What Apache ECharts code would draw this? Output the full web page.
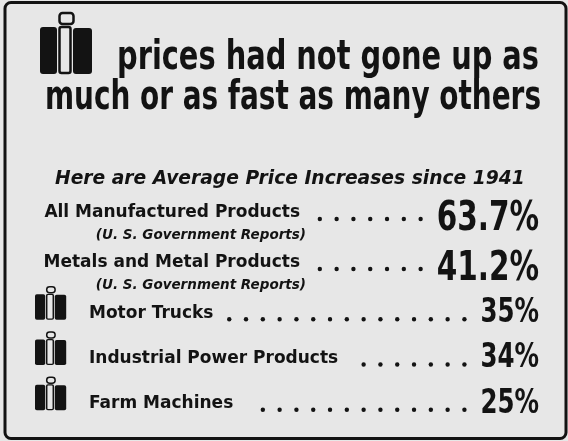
<!DOCTYPE html>
<html>
<head>
<meta charset="utf-8">
<style>
  html, body { margin: 0; padding: 0; background: #e7e7e7; }
  #main { width: 568px; height: 441px; }
</style>
<script src="https://cdn.jsdelivr.net/npm/echarts@6.0.0/dist/echarts.min.js"></script>
</head>
<body>
<div id="main"></div>
<script>
const headline = ['prices had not gone up as', 'much or as fast as many others'];
const subhead = 'Here are Average Price Increases since 1941';

// other industries (government figures)
const industries = ['All Manufactured Products', 'Metals and Metal Products'];
const industryNotes = ['(U. S. Government Reports)', '(U. S. Government Reports)'];
const industryIncrease = [63.7, 41.2];

// IH products
const ihProducts = ['Motor Trucks', 'Industrial Power Products', 'Farm Machines'];
const ihIncrease = [35, 34, 25];

const ink = '#131313';
const paper = '#e7e7e7';
const narrow = "'DejaVu Sans Condensed', 'DejaVu Sans', sans-serif";
const geo = "'DejaVu Sans', sans-serif";
const squeeze = 0.8; // horizontal squeeze for the condensed type

const chartDom = document.getElementById('main');
const myChart = echarts.init(chartDom);

const measureCtx = document.createElement('canvas').getContext('2d');
function textWidth(text, font) {
    measureCtx.font = font;
    return measureCtx.measureText(text).width;
}

// IH emblem, drawn in a 52 x 62 box
function ihLogo(x, y, sx, sy, headR) {
    return {
        type: 'group',
        x: x,
        y: y,
        scaleX: sx,
        scaleY: sy,
        children: [
            { type: 'rect', shape: { x: 0, y: 15, width: 17, height: 47, r: 3 }, style: { fill: ink } },
            { type: 'rect', shape: { x: 33, y: 16, width: 19, height: 46, r: 3 }, style: { fill: ink } },
            { type: 'rect', shape: { x: 19.5, y: 15, width: 11, height: 46, r: 2 }, style: { fill: paper, stroke: ink, lineWidth: 2.5 } },
            { type: 'rect', shape: { x: 19.5, y: 1, width: 14, height: 11, r: headR }, style: { fill: paper, stroke: ink, lineWidth: 2.5 } }
        ]
    };
}

// headline line stretched between two x positions
function headlineText(text, left, right, cy) {
    const font = 'bold 41px ' + narrow;
    return {
        type: 'text', silent: true,
        x: left, y: cy,
        scaleX: (right - left) / textWidth(text, font),
        style: { text: text, x: 0, y: 0, font: font, fill: ink, align: 'left', verticalAlign: 'middle' }
    };
}

function rowRenderer(names, notes, isIH) {
    const nameFont = 'bold 17px ' + geo;
    const noteFont = 'italic bold 13.5px ' + geo;
    const valueFont = 'bold ' + (isIH ? 34 : 41) + 'px ' + narrow;
    return function (params, api) {
        const i = api.value(1);
        const val = api.value(0);
        const cy = api.coord([0, i])[1];
        const area = params.coordSys;
        const right = area.x + area.width;
        const label = val + '%';
        const children = [];

        const nameY = isIH ? cy : cy - 3;
        let nameRight;
        if (isIH) {
            children.push(ihLogo(35, cy - 27, 0.6, 0.54, 5));
            children.push({ type: 'text', style: { text: names[i], x: 89, y: nameY, font: nameFont, fill: ink, align: 'left', verticalAlign: 'middle' } });
            nameRight = 89 + textWidth(names[i], nameFont);
        } else {
            children.push({ type: 'text', style: { text: names[i], x: 300, y: nameY, font: nameFont, fill: ink, align: 'right', verticalAlign: 'middle' } });
            children.push({ type: 'text', style: { text: notes[i], x: 306, y: cy + 19, font: noteFont, fill: ink, align: 'right', verticalAlign: 'middle' } });
            nameRight = 300;
        }

        const valueY = isIH ? cy : cy + 3;
        children.push({
            type: 'text', x: right, y: valueY, scaleX: squeeze,
            style: { text: label, x: 0, y: 0, font: valueFont, fill: ink, align: 'right', verticalAlign: 'middle' }
        });

        // dot leaders, anchored on the value side
        const valueLeft = right - squeeze * textWidth(label, valueFont);
        for (let dx = valueLeft - 16; dx >= nameRight + 14; dx -= 16.8) {
            children.push({ type: 'circle', shape: { cx: dx, cy: nameY + 6, r: 2.2 }, style: { fill: ink } });
        }
        return { type: 'group', children: children };
    };
}

const option = {
    backgroundColor: paper,
    animation: false,
    title: {
        text: subhead, left: 55, top: 170, padding: 0,
        textStyle: { fontFamily: geo, fontStyle: 'italic', fontWeight: 'bold', fontSize: 18.7, lineHeight: 18, color: ink }
    },
    graphic: [
        {
            type: 'rect', silent: true,
            shape: { x: 5, y: 2.5, width: 561, height: 436, r: 6 },
            style: { fill: 'none', stroke: ink, lineWidth: 3 }
        },
        ihLogo(40, 12, 1, 1, 3),
        headlineText(headline[0], 117, 539, 58.5),
        headlineText(headline[1], 45, 541, 98.5)
    ],
    grid: [
        { left: 40, width: 499, top: 191, height: 100 },
        { left: 40, width: 499, top: 290.6, height: 135.75 }
    ],
    xAxis: [
        { gridIndex: 0, type: 'value', min: 0, max: 100, show: false },
        { gridIndex: 1, type: 'value', min: 0, max: 100, show: false }
    ],
    yAxis: [
        { gridIndex: 0, type: 'category', data: industries, inverse: true, show: false },
        { gridIndex: 1, type: 'category', data: ihProducts, inverse: true, show: false }
    ],
    series: [
        {
            type: 'custom', xAxisIndex: 0, yAxisIndex: 0,
            renderItem: rowRenderer(industries, industryNotes, false),
            data: industryIncrease.map((v, i) => [v, i])
        },
        {
            type: 'custom', xAxisIndex: 1, yAxisIndex: 1,
            renderItem: rowRenderer(ihProducts, null, true),
            data: ihIncrease.map((v, i) => [v, i])
        }
    ]
};

myChart.setOption(option);
</script>
</body>
</html>
